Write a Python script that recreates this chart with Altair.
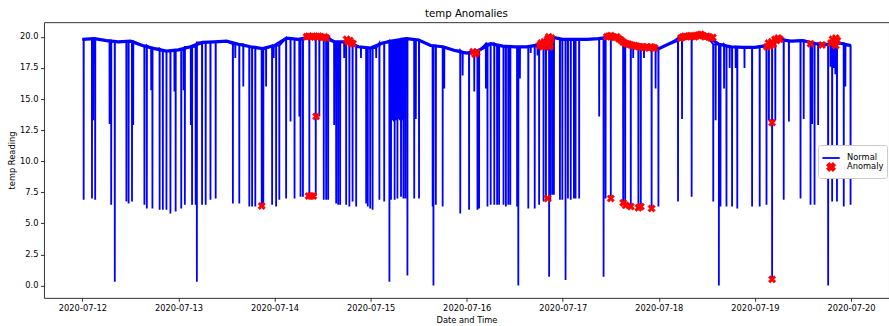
import altair as alt
import pandas as pd

TITLE = "temp Anomalies"
X_TITLE = "Date and Time"
Y_TITLE = "temp Reading"
KINDS = ["Normal", "Anomaly"]

DAY_LABELS = ["2020-07-12", "2020-07-13", "2020-07-14", "2020-07-15", "2020-07-16",
              "2020-07-17", "2020-07-18", "2020-07-19", "2020-07-20"]
DAY_TICKS_H = [0, 24, 48, 72, 96, 120, 144, 168, 192]
Y_TICKS = [0.0, 2.5, 5.0, 7.5, 10.0, 12.5, 15.0, 17.5, 20.0]

# baseline reading every 3 hours (hours since 2020-07-12 00:00)
BASE_HOURS = list(range(0, 193, 3))
BASE_TEMP = [19.8, 19.85, 19.7, 19.6, 19.65, 19.3, 19.05, 18.85, 18.95, 19.2,
             19.55, 19.6, 19.65, 19.4, 19.2, 19.05, 19.3, 19.9, 19.8, 20.0,
             20.0, 19.6, 19.6, 19.2, 19.1, 19.5, 19.7, 19.85, 19.75, 19.3,
             19.2, 18.9, 18.7, 18.9, 19.45, 19.25, 19.2, 19.2, 19.35, 20.0,
             19.8, 19.8, 19.8, 19.85, 20.0, 19.7, 19.3, 19.15, 19.05, 19.5,
             19.9, 20.0, 20.05, 19.4, 19.2, 19.15, 19.15, 19.3, 19.8, 19.65,
             19.7, 19.45, 19.4, 19.5, 19.3]

# single-reading drops
SPIKE_HOURS = [0.32, 2.4, 2.7, 3.2, 6.8, 7.2, 8.1, 11.0, 11.55, 12.4, 12.7, 15.5, 16.1, 17.2, 17.5,
               19.3, 20.1, 21.0, 22.0, 23.0, 23.3, 24.7,
               25.3, 25.6, 27.1, 27.4, 28.3, 28.6, 29.9, 30.8, 32.0, 33.3, 37.6, 38.2, 39.2, 40.2,
               41.7, 42.4, 43.2, 44.8, 45.2, 45.9, 47.4, 47.8, 48.4, 49.2, 50.9,
               52.0, 53.0, 54.2, 54.5, 55.1, 56.7, 58.3, 59.2, 60.3, 60.9, 61.4, 62.9, 63.4, 63.9,
               64.4, 65.4, 65.9, 66.7, 67.5, 68.4, 69.6, 70.9, 71.3, 71.9, 72.5, 73.4, 74.2, 75.4,
               76.7,
               77.1, 77.4, 77.6, 77.8, 78.0, 78.2, 78.4, 78.7, 78.9, 79.1, 79.3, 79.6, 79.8, 80.0,
               80.2, 80.45, 80.7, 81.2, 82.9, 83.3, 84.1, 87.5, 87.7, 88.3, 90.0, 90.4, 94.4, 95.0,
               96.6, 97.9, 98.7, 99.1, 100.8, 101.2, 102.0, 102.9, 103.6,
               104.1, 105.2, 105.8, 106.4, 106.9, 108.6, 108.9, 109.3, 111.4, 112.0, 113.0, 113.7,
               114.1, 115.2, 115.8, 116.6, 116.9, 117.4, 117.8, 119.3, 119.9, 120.7, 121.3, 122.0,
               122.8, 123.2, 124.1, 129.1, 130.2,
               130.7, 132.0, 135.1, 135.6, 137.0, 137.6, 138.9, 139.5, 140.3, 142.2, 143.2, 143.9,
               148.8, 149.8, 152.2,
               157.6, 158.2, 159.0, 159.4, 160.3, 160.9, 161.7, 162.3, 163.2, 163.6, 165.4, 167.3,
               169.2, 170.9, 171.5, 172.3, 173.1, 175.2, 176.5, 179.4, 180.2, 181.9, 182.3, 182.9,
               183.8, 186.3, 186.9, 187.3, 187.7, 188.1, 188.5, 190.2, 190.6, 191.9]
SPIKE_TEMP = [6.9, 7.0, 13.3, 6.9, 13.0, 6.5, 0.3, 6.75, 6.6, 6.75, 12.9, 6.5, 6.2, 15.7, 6.2,
              6.1, 6.1, 6.1, 5.8, 15.6, 5.95, 6.2,
              15.7, 6.5, 12.9, 6.5, 6.5, 0.3, 6.5, 6.5, 6.9, 7.0, 6.6, 18.3, 6.6, 16.0,
              6.35, 6.35, 6.35, 6.4, 6.2, 16.0, 6.5, 18.3, 6.35, 6.9, 7.0,
              13.2, 7.0, 13.6, 7.15, 7.15, 7.2, 7.2, 13.6, 6.9, 6.9, 6.9, 12.9, 6.6, 6.5,
              6.5, 18.3, 6.5, 6.35, 6.75, 6.35, 18.3, 6.6, 6.35, 6.2, 6.1, 18.3, 6.9, 6.75,
              0.3,
              6.9, 13.3, 13.5, 13.2, 6.9, 13.4, 13.3, 7.0, 13.5, 13.4, 13.3, 7.15, 13.4, 13.3,
              7.0, 13.4, 7.0, 0.8, 7.0, 13.4, 7.0, 6.35, 0.0, 6.5, 6.35, 15.85, 5.8, 16.9,
              6.1, 15.6, 6.1, 6.2, 15.85, 6.35, 6.5, 6.5, 6.5,
              6.5, 6.5, 6.35, 6.5, 6.5, 6.35, 0.0, 16.65, 6.2, 18.7, 6.2, 18.5,
              6.5, 6.75, 7.0, 0.7, 6.75, 7.3, 7.3, 6.9, 6.9, 0.45, 7.0, 6.9,
              7.0, 7.0, 7.0, 13.6, 0.7,
              7.0, 7.0, 6.6, 6.5, 6.3, 18.3, 6.2, 6.35, 18.3, 6.2, 15.85, 6.35,
              6.75, 13.4, 7.15,
              6.75, 13.3, 0.0, 6.35, 15.85, 6.35, 17.5, 6.35, 17.5, 6.2, 17.5, 6.35,
              6.35, 6.5, 13.3, 0.45, 13.3, 6.9, 13.2, 7.0, 13.4, 6.5, 13.0, 6.5,
              12.9, 0.0, 17.6, 6.75, 17.5, 17.0, 6.75, 6.35, 16.0, 6.5]

ANOM_HOURS = [44.8,
              56.0, 56.5, 57.0, 57.5, 58.0, 58.5, 59.0, 59.5, 60.0, 60.5, 61.0,
              58.4, 56.5, 57.1, 57.7,
              66.0, 66.4, 66.8, 67.2, 67.6,
              97.6, 98.1, 98.5,
              114.2, 114.6, 115.0, 115.4, 115.8, 116.2, 116.5, 116.9, 117.2, 116.7,
              116.2,
              131.0, 131.5, 132.0, 132.5, 133.0, 133.5, 134.0, 134.5, 135.0, 135.5, 136.0, 136.5,
              137.0, 137.5, 138.0, 138.5, 139.0, 139.5, 140.0, 140.5, 141.0, 141.5, 142.0, 142.5,
              143.0,
              132.0, 135.1, 135.7, 137.0, 138.9, 139.5, 142.2,
              149.5, 150.0, 150.5, 151.0, 151.5, 152.0, 152.5, 153.0, 153.5, 154.0, 154.5, 155.0,
              155.5, 156.0, 156.5, 157.0, 157.5,
              171.0, 171.4, 171.8, 172.2, 172.6, 173.0, 173.4, 173.8, 174.3,
              172.3, 172.3,
              181.9, 184.8,
              187.0, 187.4, 187.8, 188.2, 188.6, 188.2]
ANOM_TEMP = [6.4,
             20.0, 20.05, 20.0, 20.05, 20.0, 20.0, 20.05, 20.0, 19.95, 20.0, 19.9,
             13.6, 7.2, 7.2, 7.2,
             19.8, 19.6, 19.7, 19.5, 19.45,
             18.8, 18.6, 18.75,
             19.3, 19.5, 19.2, 19.6, 19.35, 19.8, 20.0, 19.4, 19.9, 19.2,
             7.0,
             20.0, 20.05, 20.1, 20.0, 19.95, 20.0, 19.85, 19.75, 19.6, 19.5, 19.45, 19.4,
             19.35, 19.3, 19.3, 19.25, 19.2, 19.2, 19.2, 19.15, 19.2, 19.1, 19.2, 19.15,
             19.1,
             7.0, 6.65, 6.45, 6.35, 6.25, 6.35, 6.2,
             19.9, 20.0, 20.05, 20.0, 20.05, 20.1, 20.05, 20.0, 20.1, 20.15, 20.2, 20.1,
             20.0, 20.05, 20.0, 19.9, 19.95,
             19.2, 19.5, 19.3, 19.6, 19.4, 19.8, 19.7, 19.9, 19.8,
             13.1, 0.5,
             19.45, 19.35,
             19.5, 19.8, 19.6, 19.3, 19.7, 19.9]

# ---- build tables ----
base_df = pd.DataFrame({"hours": BASE_HOURS, "temp": BASE_TEMP})
rows = [(h, v) for h, v in zip(BASE_HOURS, BASE_TEMP)]
EPS = 0.03
for h, v in zip(SPIKE_HOURS, SPIKE_TEMP):
    top = BASE_TEMP[int(round(h / 3.0))]
    rows += [(h - EPS, top), (h, v), (h + EPS, top)]
line_df = pd.DataFrame(rows, columns=["hours", "temp"]).sort_values("hours").reset_index(drop=True)
line_df["seq"] = range(len(line_df))

anom_df = pd.DataFrame({"hours": ANOM_HOURS, "temp": ANOM_TEMP, "kind": "Anomaly"})

X_PATH = "M-1,-0.5L-0.5,-1L0,-0.5L0.5,-1L1,-0.5L0.5,0L1,0.5L0.5,1L0,0.5L-0.5,1L-1,0.5L-0.5,0Z"

label_expr = "[" + ",".join("'%s'" % s for s in DAY_LABELS) + "][round(datum.value / 24)]"

x_scale = alt.Scale(domain=[-9.6, 201.5], nice=False, zero=False)
y_scale = alt.Scale(domain=[-0.99, 21.18], nice=False, zero=False)
x_axis = alt.Axis(title=X_TITLE, values=DAY_TICKS_H, labelExpr=label_expr, titlePadding=3)
y_axis = alt.Axis(title=Y_TITLE, values=Y_TICKS, format=".1f", titlePadding=3)

line = alt.Chart(line_df).mark_line(color="#0000ff", strokeWidth=1.8).encode(
    x=alt.X("hours:Q", scale=x_scale, axis=x_axis),
    y=alt.Y("temp:Q", scale=y_scale, axis=y_axis),
    order="seq:Q",
)

base = alt.Chart(base_df).mark_line(color="#0000ff", strokeWidth=3.2).encode(
    x=alt.X("hours:Q", scale=x_scale, axis=x_axis),
    y=alt.Y("temp:Q", scale=y_scale, axis=y_axis),
)

legend = alt.Legend(title=None, orient="none", legendX=775, legendY=123)
points = alt.Chart(anom_df).mark_point(filled=True, opacity=1, strokeWidth=0.5).encode(
    x=alt.X("hours:Q", scale=x_scale, axis=x_axis),
    y=alt.Y("temp:Q", scale=y_scale, axis=y_axis),
    fill=alt.Fill("kind:N", scale=alt.Scale(domain=KINDS, range=["#0000ff", "#ff0000"]), legend=legend),
    stroke=alt.Stroke("kind:N", scale=alt.Scale(domain=KINDS, range=["#0000ff", "#ff0000"]), legend=legend),
    shape=alt.Shape("kind:N", scale=alt.Scale(domain=KINDS, range=["stroke", X_PATH]), legend=legend),
    size=alt.Size("kind:N", scale=alt.Scale(domain=KINDS, range=[300, 56]), legend=legend),
)

chart = alt.layer(base, line, points).properties(
    width=846,
    height=276,
    title=alt.TitleParams(TITLE, fontSize=10.2, fontWeight="normal", font="DejaVu Sans",
                          color="black", offset=3),
    autosize=alt.AutoSizeParams(type="none"),
    padding={"left": 44, "top": 22, "right": 0, "bottom": 28},
).configure_view(
    stroke="#333333", strokeWidth=1
).configure_axis(
    labelFont="DejaVu Sans", labelFontSize=8.3, labelColor="black",
    titleFont="DejaVu Sans", titleFontSize=8.3, titleFontWeight="normal", titleColor="black",
    tickColor="black", tickSize=3.5, tickWidth=0.8, labelPadding=2.5,
    domain=False, grid=False,
).configure_legend(
    labelFont="DejaVu Sans", labelFontSize=8.3, labelColor="black",
    padding=3, strokeColor="#cccccc", fillColor="white", cornerRadius=2,
    rowPadding=-3, symbolStrokeWidth=1.8, labelOffset=6,
)

chart.save("out.html", embed_options={"renderer": "svg", "actions": False})
